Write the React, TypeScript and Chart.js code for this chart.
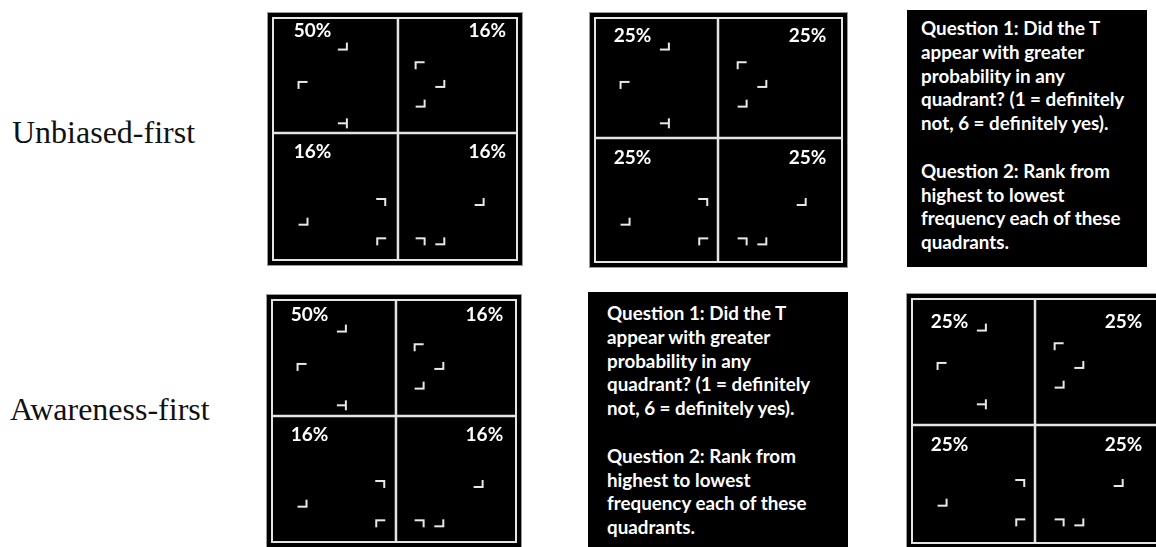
import React, { useEffect, useRef } from "react";
import { Chart, registerables } from "chart.js";

Chart.register(...registerables);

// ---------------- data ----------------
const conditionLabels = ["Unbiased-first", "Awareness-first"];
// quadrant order: top-left, top-right, bottom-left, bottom-right
const trainingPercents = ["50%", "16%", "16%", "16%"];
const testPercents = ["25%", "25%", "25%", "25%"];
// search display items (T target and L-shaped distractors), in stimulus pixels from the frame corner
const glyphTypes = ["BR", "TL", "T", "TL", "BR", "BR", "TR", "BR", "TL", "BR", "TR", "BR"];
const glyphX = [71, 30, 71, 149, 170, 150, 110, 31, 110, 210, 150, 170];
const glyphY = [29, 68, 107, 48, 67, 87, 187, 207, 227, 187, 227, 227];
const questionLines = [
  "Question 1: Did the T",
  "appear with greater",
  "probability in any",
  "quadrant? (1 = definitely",
  "not, 6 = definitely yes).",
  "",
  "Question 2: Rank from",
  "highest to lowest",
  "frequency each of these",
  "quadrants.",
];

// ---------------- layout / styles ----------------
const LINE = "#e4e4e4";
const GLYPH = "#e8e8e8";
const UI_FONT = "Lato, 'Open Sans', sans-serif";

type PanelSpec = {
  left: number;
  top: number;
  w: number;
  h: number;
  divX: number;
  divY: number;
  pct: string[];
  labL: number;
  labR: number;
  labY1: number;
  labY2: number;
};

const panels: PanelSpec[] = [
  { left: 267, top: 12, w: 256, h: 254, divX: 127, divY: 117, pct: trainingPercents, labL: 21, labR: 237, labY1: 13, labY2: 136 },
  { left: 589, top: 12, w: 259, h: 256, divX: 125, divY: 122, pct: testPercents, labL: 19, labR: 235, labY1: 18, labY2: 142 },
  { left: 266, top: 294, w: 256, h: 254, divX: 126, divY: 118, pct: trainingPercents, labL: 19, labR: 235, labY1: 15, labY2: 137 },
  { left: 906, top: 293, w: 258, h: 256, divX: 125, divY: 128, pct: testPercents, labL: 19, labR: 234, labY1: 23, labY2: 148 },
];

const textBoxes = [
  { left: 907, top: 10, w: 240, h: 257, padL: 14, padT: 6 },
  { left: 588, top: 292, w: 260, h: 257, padL: 19, padT: 9 },
];

function makeGlyph(type: string): HTMLCanvasElement {
  const c = document.createElement("canvas");
  c.width = 12;
  c.height = 12;
  const g = c.getContext("2d")!;
  g.fillStyle = GLYPH;
  if (type === "BR") {
    g.fillRect(1, 8, 10, 2);
    g.fillRect(9, 2, 2, 8);
  } else if (type === "TL") {
    g.fillRect(1, 2, 10, 2);
    g.fillRect(1, 2, 2, 8);
  } else if (type === "TR") {
    g.fillRect(1, 2, 10, 2);
    g.fillRect(9, 2, 2, 8);
  } else {
    g.fillRect(1, 5, 9, 2);
    g.fillRect(9, 1, 2, 10);
  }
  return c;
}

function StimulusPanel({ spec }: { spec: PanelSpec }) {
  const ref = useRef<HTMLCanvasElement>(null);
  useEffect(() => {
    const canvas = ref.current!;
    const fw = spec.w - 8;
    const fh = spec.h - 8;
    const styles: Record<string, HTMLCanvasElement> = {};
    ["BR", "TL", "TR", "T"].forEach((t) => (styles[t] = makeGlyph(t)));
    const framePlugin = {
      id: "frame",
      beforeDatasetsDraw(chart: any) {
        const { ctx, chartArea } = chart;
        const xs = chart.scales.x;
        const ys = chart.scales.y;
        ctx.save();
        ctx.strokeStyle = LINE;
        ctx.lineWidth = 2;
        ctx.strokeRect(chartArea.left, chartArea.top, chartArea.right - chartArea.left, chartArea.bottom - chartArea.top);
        const dx = xs.getPixelForValue(spec.divX);
        const dy = ys.getPixelForValue(spec.divY);
        ctx.lineWidth = 2.5;
        ctx.beginPath();
        ctx.moveTo(dx, chartArea.top);
        ctx.lineTo(dx, chartArea.bottom);
        ctx.moveTo(chartArea.left, dy);
        ctx.lineTo(chartArea.right, dy);
        ctx.stroke();
        ctx.fillStyle = "#ffffff";
        ctx.font = `bold 19px ${UI_FONT}`;
        ctx.textBaseline = "middle";
        const pos = [
          [spec.labL, spec.labY1, "left"],
          [spec.labR, spec.labY1, "right"],
          [spec.labL, spec.labY2, "left"],
          [spec.labR, spec.labY2, "right"],
        ];
        pos.forEach((p, i) => {
          ctx.textAlign = p[2] as CanvasTextAlign;
          ctx.fillText(spec.pct[i], xs.getPixelForValue(p[0] as number), ys.getPixelForValue(p[1] as number));
        });
        ctx.restore();
      },
    };
    const chart = new Chart(canvas, {
      type: "scatter",
      data: {
        datasets: [
          {
            data: glyphX.map((x, i) => ({ x, y: glyphY[i] })),
            pointStyle: glyphTypes.map((t) => styles[t]) as any,
            pointRadius: 3,
            backgroundColor: GLYPH,
            borderColor: GLYPH,
          },
        ],
      },
      options: {
        animation: false,
        responsive: false,
        devicePixelRatio: 1,
        events: [],
        layout: { padding: 3 },
        scales: {
          x: { type: "linear", min: 0, max: fw, display: false },
          y: { type: "linear", min: 0, max: fh, reverse: true, display: false },
        },
        plugins: { legend: { display: false }, tooltip: { enabled: false } },
      },
      plugins: [framePlugin],
    });
    return () => chart.destroy();
  }, [spec]);
  return (
    <div
      style={{
        position: "absolute",
        left: spec.left,
        top: spec.top,
        width: spec.w,
        height: spec.h,
        boxSizing: "border-box",
        border: "1px solid #9a9a9a",
        background: "#000",
      }}
    >
      <canvas ref={ref} width={spec.w - 2} height={spec.h - 2} style={{ display: "block", width: spec.w - 2, height: spec.h - 2 }} />
    </div>
  );
}

function QuestionBox({ b }: { b: { left: number; top: number; w: number; h: number; padL: number; padT: number } }) {
  return (
    <div
      style={{
        position: "absolute",
        left: b.left,
        top: b.top,
        width: b.w,
        height: b.h,
        boxSizing: "border-box",
        background: "#000",
        color: "#fff",
        fontFamily: UI_FONT,
        fontWeight: 700,
        fontSize: 18.8,
        lineHeight: "23.8px",
        paddingLeft: b.padL,
        paddingTop: b.padT,
        whiteSpace: "pre",
      }}
    >
      {questionLines.map((l, i) => (
        <div key={i}>{l === "" ? "\u00a0" : l}</div>
      ))}
    </div>
  );
}

export default function App() {
  const labelStyle: React.CSSProperties = {
    position: "absolute",
    fontFamily: "'Liberation Serif', 'Times New Roman', serif",
    fontSize: 32,
    lineHeight: "32px",
    color: "#111",
    whiteSpace: "nowrap",
  };
  return (
    <div style={{ position: "absolute", left: 0, top: 0, width: 1156, height: 547, overflow: "hidden", background: "#fff" }}>
      <div style={{ ...labelStyle, left: 12, top: 116 }}>{conditionLabels[0]}</div>
      <div style={{ ...labelStyle, left: 10, top: 393 }}>{conditionLabels[1]}</div>
      {panels.map((p, i) => (
        <StimulusPanel key={i} spec={p} />
      ))}
      {textBoxes.map((b, i) => (
        <QuestionBox key={i} b={b} />
      ))}
    </div>
  );
}
